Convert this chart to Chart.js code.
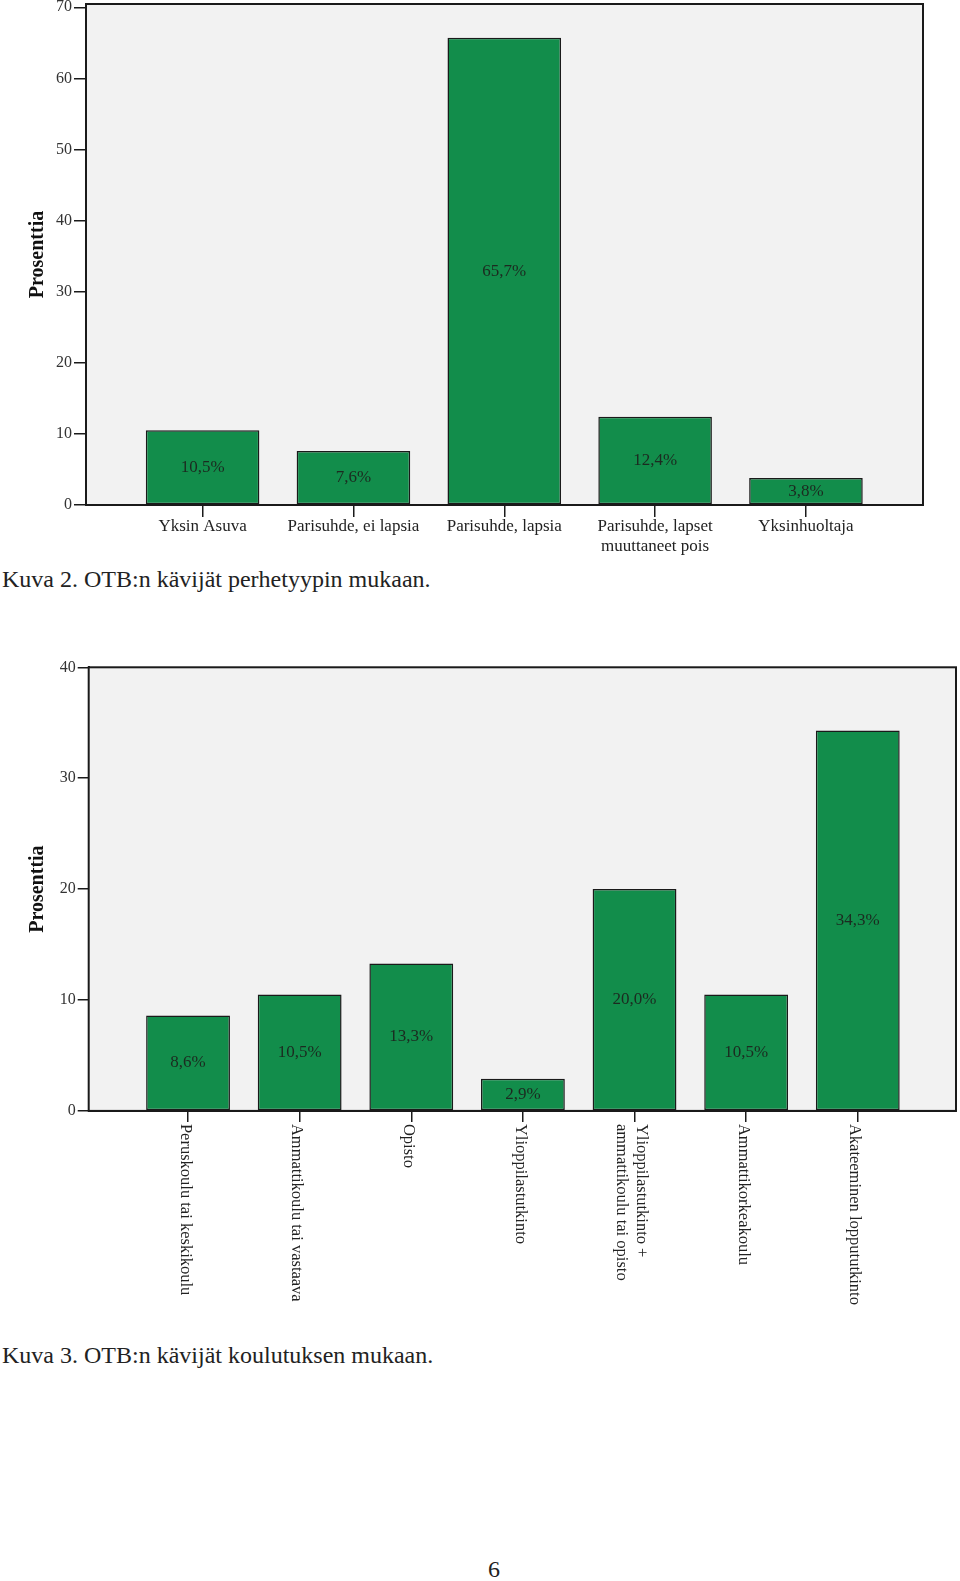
<!DOCTYPE html>
<html>
<head>
<meta charset="utf-8">
<script src="https://cdn.jsdelivr.net/npm/chart.js@4"></script>
<style>
  html, body { margin: 0; padding: 0; background: #fff; width: 960px; height: 1581px; overflow: hidden; }
  body { position: relative; font-family: "Liberation Serif", serif; color: #222; }
  canvas { position: absolute; left: 0; }
  #c1 { top: 0; }
  #c2 { top: 620px; }
  .cap { position: absolute; left: 2px; font-size: 24px; line-height: 28px; white-space: nowrap; color: #222; }
  #page { position: absolute; left: 488px; top: 1555px; font-size: 24px; line-height: 28px; color: #222; }
</style>
</head>
<body>
<canvas id="c1" width="960" height="560"></canvas>
<div class="cap" style="top:565px;">Kuva 2. OTB:n kävijät perhetyypin mukaan.</div>
<canvas id="c2" width="960" height="700"></canvas>
<div class="cap" style="top:1341px;">Kuva 3. OTB:n kävijät koulutuksen mukaan.</div>
<div id="page">6</div>
<script>
// ---- Data ----
const familyCategories = ["Yksin Asuva", "Parisuhde, ei lapsia", "Parisuhde, lapsia", "Parisuhde, lapset\nmuuttaneet pois", "Yksinhuoltaja"];
const familyValues = [10.5, 7.6, 65.7, 12.4, 3.8];
const familyLabels = ["10,5%", "7,6%", "65,7%", "12,4%", "3,8%"];
const familyYTicks = [0, 10, 20, 30, 40, 50, 60, 70];

const eduCategories = ["Peruskoulu tai keskikoulu", "Ammattikoulu tai vastaava", "Opisto", "Ylioppilastutkinto", "Ylioppilastutkinto +\nammattikoulu tai opisto", "Ammattikorkeakoulu", "Akateeminen loppututkinto"];
const eduValues = [8.6, 10.5, 13.3, 2.9, 20.0, 10.5, 34.3];
const eduLabels = ["8,6%", "10,5%", "13,3%", "2,9%", "20,0%", "10,5%", "34,3%"];
const eduYTicks = [0, 10, 20, 30, 40];

const yTitle = "Prosenttia";

// ---- Styles ----
const SERIF = "'Liberation Serif', 'DejaVu Serif', serif";
Chart.defaults.font.family = SERIF;
const BAR_GREEN = '#128D4B';
const DARK = '#1a1a1a';
const PLOT_BG = '#F2F2F2';

const plotFrame = {
  id: 'plotFrame',
  beforeDatasetsDraw(chart) {
    const a = chart.chartArea, ctx = chart.ctx;
    ctx.save();
    ctx.fillStyle = PLOT_BG;
    ctx.fillRect(a.left, a.top, a.right - a.left, a.bottom - a.top);
    ctx.restore();
  },
  afterDraw(chart) {
    const a = chart.chartArea, ctx = chart.ctx;
    ctx.save();
    ctx.strokeStyle = DARK;
    ctx.lineWidth = 2;
    ctx.strokeRect(a.left, a.top, a.right - a.left, a.bottom - a.top);
    ctx.restore();
  }
};

const valueLabels = {
  id: 'valueLabels',
  afterDatasetsDraw(chart, args, opts) {
    const ctx = chart.ctx;
    const meta = chart.getDatasetMeta(0);
    ctx.save();
    ctx.font = '17px ' + SERIF;
    ctx.fillStyle = '#1c2a20';
    ctx.textAlign = 'center';
    ctx.textBaseline = 'middle';
    meta.data.forEach((el, i) => {
      ctx.fillText(opts.labels[i], el.x, (el.y + el.base) / 2);
    });
    ctx.restore();
  }
};

const rotatedXLabels = {
  id: 'rotatedXLabels',
  afterDraw(chart, args, opts) {
    if (!opts.labels) return;
    const ctx = chart.ctx;
    const xs = chart.scales.x;
    const y0 = chart.chartArea.bottom + 13;
    const lh = 20;
    ctx.save();
    ctx.font = '16.5px ' + SERIF;
    ctx.fillStyle = '#222';
    ctx.textAlign = 'left';
    ctx.textBaseline = 'middle';
    opts.labels.forEach((lab, i) => {
      const lines = lab.split('\n');
      const x = xs.getPixelForValue(i) - 3;
      ctx.save();
      ctx.translate(x, y0);
      ctx.rotate(Math.PI / 2);
      lines.forEach((ln, j) => {
        ctx.fillText(ln, 0, (j - (lines.length - 1) / 2) * lh);
      });
      ctx.restore();
    });
    ctx.restore();
  }
};

function zeroPad(scale) {
  scale.paddingTop = 0; scale.paddingBottom = 0; scale.paddingLeft = 0; scale.paddingRight = 0;
}

function makeChart(id, cfg) {
  return new Chart(document.getElementById(id), {
    type: 'bar',
    data: {
      datasets: [{
        data: cfg.values.map((v, i) => ({ x: i, y: v })),
        backgroundColor: BAR_GREEN,
        borderColor: DARK,
        borderWidth: 1.5,
        borderSkipped: false,
        barPercentage: cfg.barPct,
        categoryPercentage: 1
      }]
    },
    options: {
      responsive: false,
      animation: false,
      devicePixelRatio: 1,
      layout: { padding: cfg.padding },
      plugins: {
        legend: { display: false },
        tooltip: { enabled: false },
        valueLabels: { labels: cfg.valueLabels },
        rotatedXLabels: { labels: cfg.rotated ? cfg.categories : null }
      },
      scales: {
        x: {
          type: 'linear',
          offset: false,
          bounds: 'data',
          min: cfg.xMin, max: cfg.xMax,
          afterBuildTicks(s) { s.ticks = cfg.categories.map((_, i) => ({ value: i })); },
          afterFit(s) { s.height = cfg.xHeight; zeroPad(s); },
          grid: { offset: false, drawOnChartArea: false, drawTicks: true, tickLength: cfg.tickLen, color: DARK, lineWidth: 1.5 },
          border: { display: true, color: DARK, width: 2 },
          ticks: {
            display: !cfg.rotated,
            autoSkip: false, maxRotation: 0, minRotation: 0, padding: 0,
            color: '#222',
            font: { size: 17, lineHeight: 1.15 },
            callback: (v) => (cfg.categories[v] !== undefined ? cfg.categories[v].split('\n') : '')
          }
        },
        y: {
          min: 0, max: cfg.yMax,
          afterBuildTicks(s) { s.ticks = cfg.yTicks.map(v => ({ value: v })); },
          afterFit(s) { s.width = cfg.yWidth; zeroPad(s); },
          grid: { drawOnChartArea: false, drawTicks: true, tickLength: cfg.tickLen, color: DARK, lineWidth: 1.5 },
          border: { display: true, color: DARK, width: 2 },
          ticks: { color: '#333', font: { size: 16 }, padding: 2 },
          title: {
            display: true, text: yTitle, color: '#111',
            font: { size: 20, weight: 'bold' },
            padding: { top: 26, bottom: 0 }
          }
        }
      }
    },
    plugins: [plotFrame, valueLabels, rotatedXLabels]
  });
}

makeChart('c1', {
  categories: familyCategories, values: familyValues, valueLabels: familyLabels, yTicks: familyYTicks,
  yMax: 70.46, xMin: -0.773, xMax: 4.776, barPct: 0.753,
  padding: { top: 4, right: 37, left: 0, bottom: 0 },
  yWidth: 86, xHeight: 55, tickLen: 12, rotated: false
});

makeChart('c2', {
  categories: eduCategories, values: eduValues, valueLabels: eduLabels, yTicks: eduYTicks,
  yMax: 40, xMin: -0.89, xMax: 6.88, barPct: 0.751,
  padding: { top: 47.3, right: 4, left: 0, bottom: 0 },
  yWidth: 88.7, xHeight: 209.1, tickLen: 11, rotated: true
});
</script>
</body>
</html>
